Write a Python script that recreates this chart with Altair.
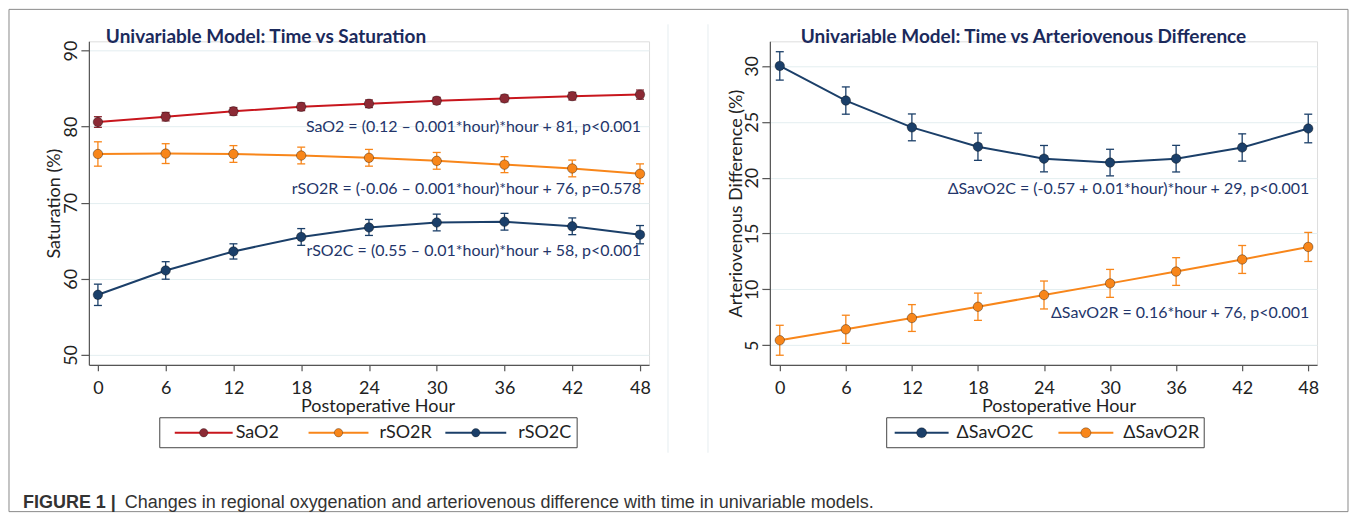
import altair as alt
import pandas as pd

# ---------------- data ----------------
hours = [0, 6, 12, 18, 24, 30, 36, 42, 48]

sao2 = [80.6, 81.3, 82.0, 82.6, 83.0, 83.4, 83.7, 84.0, 84.2]
sao2_err = [0.7, 0.55, 0.5, 0.5, 0.5, 0.45, 0.45, 0.5, 0.6]
rso2r = [76.4, 76.45, 76.4, 76.2, 75.9, 75.5, 75.0, 74.5, 73.8]
rso2r_err = [1.6, 1.3, 1.1, 1.1, 1.1, 1.1, 1.05, 1.1, 1.3]
rso2c = [57.9, 61.1, 63.6, 65.5, 66.75, 67.4, 67.5, 66.9, 65.8]
rso2c_err = [1.4, 1.15, 1.0, 1.1, 1.05, 1.1, 1.1, 1.1, 1.2]

savo2c = [30.0, 26.9, 24.5, 22.77, 21.7, 21.35, 21.7, 22.7, 24.4]
savo2c_err = [1.27, 1.22, 1.2, 1.22, 1.18, 1.19, 1.19, 1.22, 1.28]
savo2r = [5.45, 6.43, 7.44, 8.45, 9.5, 10.54, 11.6, 12.68, 13.8]
savo2r_err = [1.34, 1.26, 1.2, 1.22, 1.25, 1.25, 1.24, 1.25, 1.3]

left_series = ["SaO2", "rSO2R", "rSO2C"]
right_series = ["ΔSavO2C", "ΔSavO2R"]

left_title = "Univariable Model: Time vs Saturation"
right_title = "Univariable Model: Time vs Arteriovenous Difference"

left_annots = [
    "SaO2 = (0.12 – 0.001*hour)*hour + 81, p<0.001",
    "rSO2R = (-0.06 – 0.001*hour)*hour + 76, p=0.578",
    "rSO2C = (0.55 – 0.01*hour)*hour + 58, p<0.001",
]
left_annot_y = [79.92, 71.79, 63.66]
right_annots = [
    "ΔSavO2C = (-0.57 + 0.01*hour)*hour + 29, p<0.001",
    "ΔSavO2R = 0.16*hour + 76, p<0.001",
]
right_annot_y = [18.97, 7.89]

left_yticks = [50, 60, 70, 80, 90]
right_yticks = [5, 10, 15, 20, 25, 30]

caption_bold = "FIGURE 1 |"
caption_rest = "Changes in regional oxygenation and arteriovenous difference with time in univariable models."

# ---------------- styles / layout ----------------
FONT = "Lato"
NAVY_TEXT = "#23356a"
TITLE_COLOR = "#1b2a5c"
left_line_colors = ["#c8161d", "#f8861a", "#1b3f69"]
left_marker_colors = ["#8c2a35", "#f8861a", "#1b3f69"]
right_line_colors = ["#1b3f69", "#f8861a"]
right_marker_colors = ["#1b3f69", "#f8861a"]

# legend layout (pixels, relative to each plot's top-left corner)
left_legend_box = (71, 489, 377, 407)
left_legend_items = [(86, 144, 147), (220, 280, 291), (357, 418, 430)]
right_legend_box = (117, 435, 377, 407)
right_legend_items = [(125, 179, 187), (289, 344, 354)]


def long_df(series, values, errs):
    rows = []
    for s, vals, es in zip(series, values, errs):
        for h, v, e in zip(hours, vals, es):
            rows.append({"series": s, "hour": h, "value": v, "lo": v - e, "hi": v + e})
    return pd.DataFrame(rows)


def legend_layers(series, line_colors, marker_colors, box, items, msize):
    one = pd.DataFrame({"k": [0]})
    x0, x1, y0, y1 = box
    yc = (y0 + y1) / 2
    out = [alt.Chart(one).mark_rect(fill="white", stroke="#444", strokeWidth=1).encode(
        x=alt.value(x0), x2=alt.value(x1), y=alt.value(y0), y2=alt.value(y1))]
    for s, lc, mc, (a, b, t) in zip(series, line_colors, marker_colors, items):
        out.append(alt.Chart(one).mark_rule(color=lc, strokeWidth=2).encode(
            x=alt.value(a), x2=alt.value(b), y=alt.value(yc)))
        out.append(alt.Chart(one).mark_point(filled=True, fill=mc, opacity=1,
                                             size=msize, stroke="black",
                                             strokeWidth=1, strokeOpacity=0.3).encode(
            x=alt.value((a + b) / 2), y=alt.value(yc)))
        out.append(alt.Chart(pd.DataFrame({"t": [s]})).mark_text(
            align="left", baseline="middle", font=FONT, fontSize=18,
            color="#222").encode(text="t:N", x=alt.value(t), y=alt.value(yc)))
    return out


def panel(df, series, line_colors, marker_colors, xdom, ydom, yticks, ytitle,
          title_text, annots, annot_y, width, ytitle_x, title_x):
    height = 324
    xaxis = alt.Axis(values=hours, title="Postoperative Hour", grid=False,
                     labelFont=FONT, labelFontSize=18, labelColor="#222",
                     labelPadding=9, labelFlush=False, labelOverlap=False,
                     tickSize=6, tickColor="#555", tickWidth=1.2,
                     domainColor="#555", domainWidth=1.2,
                     titleFont=FONT, titleFontSize=18, titleFontWeight="normal",
                     titleColor="#222", titleX=289, titleY=42,
                     titleAlign="center", titleBaseline="middle")
    yaxis = alt.Axis(values=yticks, title=ytitle, grid=True, gridColor="#e3eef0",
                     gridWidth=1, labelFont=FONT, labelFontSize=18,
                     labelColor="#222", labelAngle=270, labelAlign="center",
                     labelBaseline="alphabetic", labelPadding=4,
                     labelFlush=False, labelOverlap=False,
                     tickSize=8, tickColor="#555", tickWidth=1.2,
                     domainColor="#555", domainWidth=1.2,
                     titleFont=FONT, titleFontSize=18, titleFontWeight="normal",
                     titleColor="#222", titleAngle=270, titleX=ytitle_x,
                     titleY=height / 2, titleAlign="center",
                     titleBaseline="middle")
    xs = alt.Scale(domain=xdom, nice=False, zero=False)
    ys = alt.Scale(domain=ydom, nice=False, zero=False)
    stroke_scale = alt.Scale(domain=series, range=line_colors)
    fill_scale = alt.Scale(domain=series, range=marker_colors)

    base = alt.Chart(df)
    X = alt.X("hour:Q", scale=xs, axis=xaxis)

    lines = base.mark_line(strokeWidth=2).encode(
        x=X, y=alt.Y("value:Q", scale=ys, axis=yaxis),
        stroke=alt.Stroke("series:N", scale=stroke_scale, legend=None))
    bars = base.mark_rule(strokeWidth=1.3).encode(
        x=X, y=alt.Y("lo:Q", scale=ys, axis=yaxis), y2="hi:Q",
        color=alt.Color("series:N", scale=fill_scale, legend=None))
    cap_lo = base.mark_tick(orient="horizontal", size=8, thickness=1.3,
                            opacity=1).encode(
        x=X, y=alt.Y("lo:Q", scale=ys, axis=yaxis),
        color=alt.Color("series:N", scale=fill_scale, legend=None))
    cap_hi = base.mark_tick(orient="horizontal", size=8, thickness=1.3,
                            opacity=1).encode(
        x=X, y=alt.Y("hi:Q", scale=ys, axis=yaxis),
        color=alt.Color("series:N", scale=fill_scale, legend=None))
    points = base.mark_point(filled=True, size=90, opacity=1, stroke="black",
                             strokeWidth=1, strokeOpacity=0.35).encode(
        x=X, y=alt.Y("value:Q", scale=ys, axis=yaxis),
        fill=alt.Fill("series:N", scale=fill_scale, legend=None))

    adf = pd.DataFrame({"hour": [48] * len(annots), "value": annot_y,
                        "label": annots})
    annot = alt.Chart(adf).mark_text(align="right", baseline="middle",
                                     font=FONT, fontSize=16, color=NAVY_TEXT,
                                     dx=1).encode(
        x=X, y=alt.Y("value:Q", scale=ys, axis=yaxis), text="label:N")

    tdf = pd.DataFrame({"t": [title_text]})
    title = alt.Chart(tdf).mark_text(align="left", baseline="middle", font=FONT,
                                     fontSize=19, fontWeight="bold",
                                     color=TITLE_COLOR).encode(
        text="t:N", x=alt.value(title_x), y=alt.value(-4))

    return [lines, bars, cap_lo, cap_hi, points, annot, title], width, height


left_df = long_df(left_series, [sao2, rso2r, rso2c], [sao2_err, rso2r_err, rso2c_err])
right_df = long_df(right_series, [savo2c, savo2r], [savo2c_err, savo2r_err])

L_layers, lw, lh = panel(left_df, left_series, left_line_colors, left_marker_colors,
                         [-0.8, 48.8], [48.7, 91.2], left_yticks, "Saturation (%)",
                         left_title, left_annots, left_annot_y, 561, -34, 17)
R_layers, rw, rh = panel(right_df, right_series, right_line_colors, right_marker_colors,
                         [-0.9, 48.8], [3.25, 32.2], right_yticks,
                         "Arteriovenous Difference (%)", right_title, right_annots,
                         right_annot_y, 548, -33, 31)

L_leg = legend_layers(left_series, left_line_colors, left_marker_colors,
                      left_legend_box, left_legend_items, 70)
R_leg = legend_layers(right_series, right_line_colors, right_marker_colors,
                      right_legend_box, right_legend_items, 100)

one = pd.DataFrame({"k": [0]})
frame = alt.Chart(one).mark_rect(fillOpacity=0, stroke="#8a8a8a",
                                 strokeWidth=1).encode(
    x=alt.value(-80), x2=alt.value(1261), y=alt.value(-32), y2=alt.value(471))
lborder = alt.Chart(one).mark_rule(color="#e6edf0", strokeWidth=1).encode(
    x=alt.value(580), y=alt.value(-17), y2=alt.value(412))
rborder = alt.Chart(one).mark_rule(color="#e6edf0", strokeWidth=1).encode(
    x=alt.value(-62), y=alt.value(-17), y2=alt.value(412))
cap1 = alt.Chart(pd.DataFrame({"t": [caption_bold]})).mark_text(
    align="left", baseline="middle", font="Liberation Sans Narrow, Liberation Sans",
    fontSize=18, fontWeight="bold", color="#333").encode(
    text="t:N", x=alt.value(-66), y=alt.value(462))
cap2 = alt.Chart(pd.DataFrame({"t": [caption_rest]})).mark_text(
    align="left", baseline="middle", font="Liberation Sans Narrow, Liberation Sans",
    fontSize=18, color="#333").encode(
    text="t:N", x=alt.value(36), y=alt.value(462))

left = alt.layer(frame, lborder, *L_layers, *L_leg, cap1, cap2).properties(
    width=lw, height=lh)
right = alt.layer(rborder, *R_layers, *R_leg).properties(width=rw, height=rh)

chart = alt.hconcat(left, right, spacing=121, bounds="flush").resolve_scale(
    x="independent", y="independent", stroke="independent", fill="independent",
    color="independent"
).properties(padding=0).configure_view(stroke=None).configure(background="white")

chart.save("out.html", embed_options={"renderer": "svg", "actions": False})
